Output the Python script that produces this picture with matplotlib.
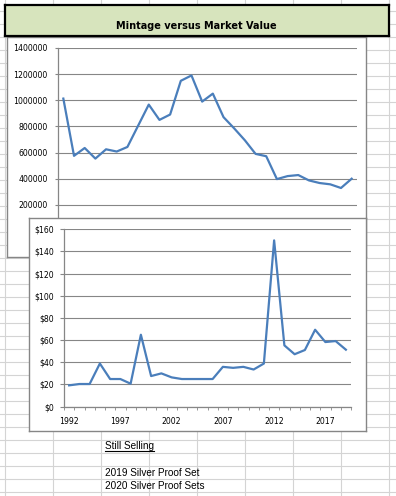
import numpy as np
import matplotlib
matplotlib.use('Agg')
import matplotlib.pyplot as plt

# data
years = list(range(1992, 2020))
mintage = [1013000, 575000, 635000, 554000, 625000, 608000, 643000, 805000, 967000, 850000,
           891000, 1149000, 1190000, 990000, 1051000, 871000, 785000, 694000, 590000, 572000,
           397000, 420000, 428000, 387000, 367000, 357000, 329000, 400000]
price = [19.1, 20.3, 20.3, 38.8, 24.8, 24.8, 20.6, 64.8, 27.5, 29.9,
         26.3, 24.8, 24.8, 24.8, 24.8, 35.8, 34.9, 35.8, 33.4, 38.8,
         150, 55.2, 47.2, 51, 69.3, 58.2, 59.1, 51.3]
# the 0 label of the top chart sits under the second chart, so only these show
mint_ticks = [200000, 400000, 600000, 800000, 1000000, 1200000, 1400000]
price_ticks = [0, 20, 40, 60, 80, 100, 120, 140, 160]
price_labels = ['$' + str(v) for v in price_ticks]
year_ticks = [1992, 1997, 2002, 2007, 2012, 2017]
notes = ['2019 Silver Proof Set', '2020 Silver Proof Sets']

W, H = 396, 496
sheet_grid = '#D4D4D4'
chart_gray = '#868686'
line_blue = '#4A7EBB'

def box(l, t, r, b):
    # pixel box (from top-left) -> figure fraction
    return [l / W, 1 - b / H, (r - l) / W, (b - t) / H]

fig = plt.figure(figsize=(W / 100, H / 100), dpi=100)

# spreadsheet cells behind the charts
bg = fig.add_axes([0, 0, 1, 1])
bg.set_xlim(0, W)
bg.set_ylim(H, 0)
bg.axis('off')
for x in np.arange(5, W, 48.05):
    bg.axvline(x, color=sheet_grid, lw=0.8)
for y in np.arange(10.7, H, 13.0):
    bg.axhline(y, color=sheet_grid, lw=0.8)

# chart 1: mintage
f1 = fig.add_axes(box(7, 37, 366, 257))
f1.set_xticks([])
f1.set_yticks([])
for s in f1.spines.values():
    s.set_color(chart_gray)
    s.set_linewidth(1.0)

ax1 = fig.add_axes(box(58, 48, 357, 231))
ax1.set_facecolor('none')
ax1.plot(range(len(years)), mintage, color=line_blue, lw=1.6, solid_joinstyle='round')
ax1.set_xlim(-0.5, len(years) - 0.5)
ax1.set_ylim(0, 1400000)
ax1.set_yticks(mint_ticks, labels=[str(v) for v in mint_ticks])
ax1.set_xticks([])
ax1.yaxis.grid(True, color=chart_gray, lw=0.8)
ax1.set_axisbelow(True)
for s in ['top', 'right']:
    ax1.spines[s].set_visible(False)
for s in ['left', 'bottom']:
    ax1.spines[s].set_color(chart_gray)
    ax1.spines[s].set_linewidth(0.9)
ax1.tick_params(axis='y', length=2.5, color=chart_gray, pad=5, labelsize=5.6)

# title box
tb = fig.add_axes(box(4.5, 4.5, 389, 36))
tb.set_facecolor('#D7E4BD')
tb.set_xticks([])
tb.set_yticks([])
for s in tb.spines.values():
    s.set_color('black')
    s.set_linewidth(1.6)
tb.text(0.5, 0.33, 'Mintage versus Market Value', ha='center', va='center',
        fontsize=7, fontweight='bold', transform=tb.transAxes)

# chart 2: market value
f2 = fig.add_axes(box(29, 218, 366, 431))
f2.set_xticks([])
f2.set_yticks([])
for s in f2.spines.values():
    s.set_color(chart_gray)
    s.set_linewidth(1.0)

ax2 = fig.add_axes(box(64, 229.3, 351, 406.5))
ax2.set_facecolor('none')
ax2.plot(range(len(years)), price, color=line_blue, lw=1.6, solid_joinstyle='round')
ax2.set_xlim(-0.5, len(years) - 0.5)
ax2.set_ylim(0, 160)
ax2.set_yticks(price_ticks, labels=price_labels)
ax2.set_xticks([years.index(y) for y in year_ticks], labels=[str(y) for y in year_ticks])
ax2.set_xticks(np.arange(len(years) + 1) - 0.5, minor=True)
ax2.yaxis.grid(True, color=chart_gray, lw=0.8)
ax2.set_axisbelow(True)
for s in ['top', 'right']:
    ax2.spines[s].set_visible(False)
for s in ['left', 'bottom']:
    ax2.spines[s].set_color(chart_gray)
    ax2.spines[s].set_linewidth(0.9)
ax2.tick_params(axis='y', length=2.8, color=chart_gray, pad=4.5, labelsize=5.6)
ax2.tick_params(axis='x', which='major', length=0, pad=7.5, labelsize=5.6)
ax2.tick_params(axis='x', which='minor', length=2.2, color=chart_gray)

# cell text under the charts
t = bg.text(105, 449, 'Still Selling', fontsize=7.2, family='Liberation Sans', va='baseline')
for i, note in enumerate(notes):
    bg.text(105, 476 + 12.8 * i, note, fontsize=7.2, family='Liberation Sans', va='baseline')

fig.canvas.draw()
bb = t.get_window_extent()
(x0, _), (x1, _) = bg.transData.inverted().transform([[bb.x0, bb.y0], [bb.x1, bb.y1]])
bg.plot([x0, x1], [450.8, 450.8], color='black', lw=0.8)

fig.savefig('out.png', dpi=100)
